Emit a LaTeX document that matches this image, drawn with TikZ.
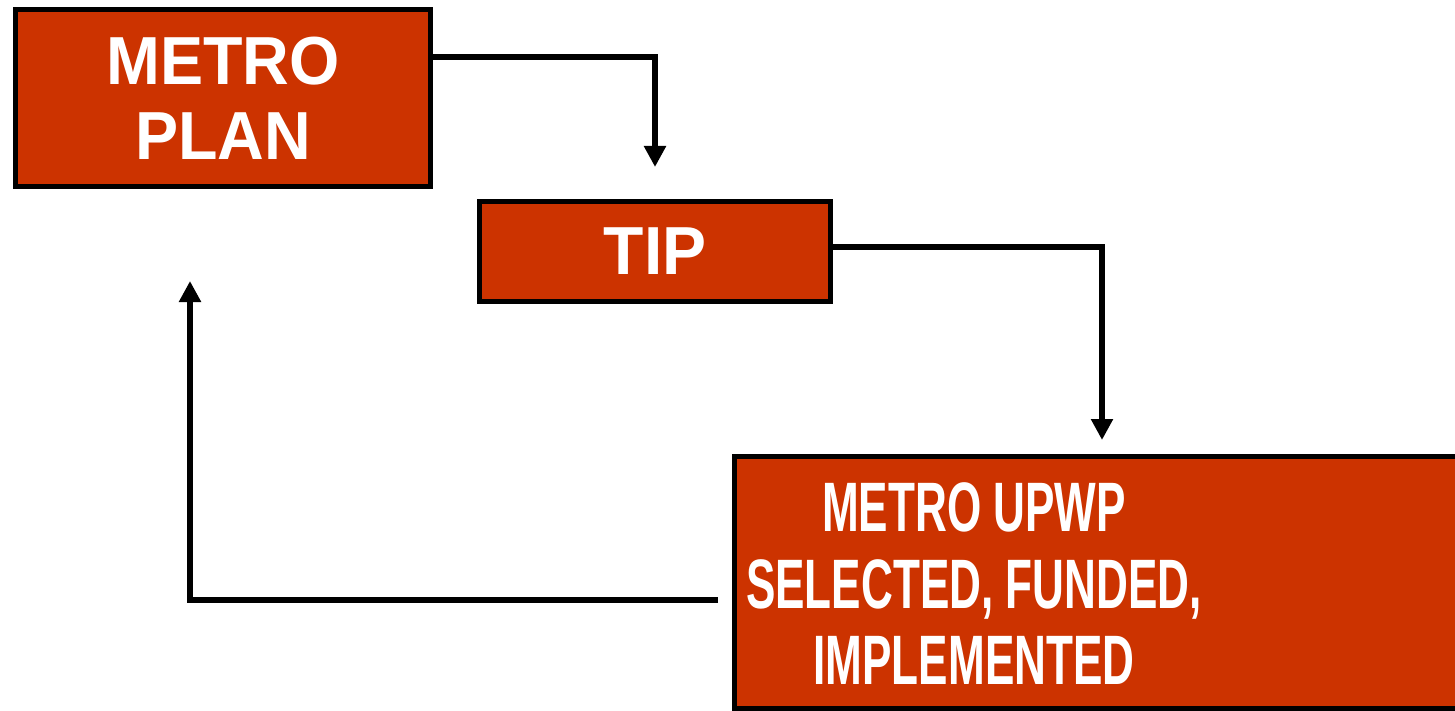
\documentclass[tikz,border=0pt]{standalone}
\usepackage{fontspec}
\setmainfont{Liberation Sans}
\usetikzlibrary{arrows.meta}
\definecolor{boxred}{HTML}{CC3300}
\tikzset{
  stagebox/.style={draw=black, line width=5pt, fill=boxred, inner sep=0pt, text=white,
    align=center, font=\fontsize{68}{75}\selectfont\bfseries},
  conn/.style={draw=black, line width=6pt, -{Triangle[width=21pt,length=21pt]}},
}
\begin{document}
\begin{tikzpicture}[x=1pt,y=-1pt]
\useasboundingbox (0,0) rectangle (1455,711);
\begin{scope}
\clip (0,0) rectangle (1455,711);
\node[stagebox, minimum width=415pt, minimum height=177pt] (box1) at (223,98) {\scalebox{0.95}[1]{METRO}\\\scalebox{0.95}[1]{PLAN}};
\node[stagebox, minimum width=351pt, minimum height=100pt] (box2) at (655,251.5) {\scalebox{0.97}[1]{TIP}};
\node[stagebox, minimum width=740pt, minimum height=252pt] (box3) at (1104.5,582.5) {};
\node[text=white, align=center, inner sep=0pt, font=\fontsize{70}{76.5}\selectfont\bfseries] (box3text) at (974,584)
  {\scalebox{0.63}[1]{METRO UPWP}\\\scalebox{0.63}[1]{SELECTED, FUNDED,}\\\scalebox{0.63}[1]{IMPLEMENTED}};
\end{scope}
\coordinate (t1) at (655,167);
\coordinate (t2) at (1102,440);
\coordinate (s3) at (718,600);
\coordinate (t3) at (190,281);
\draw[conn] (box1.east |- 0,57) -| (t1);
\draw[conn] (box2.east |- 0,247) -| (t2);
\draw[conn] (s3) -| (t3);
\end{tikzpicture}
\end{document}
